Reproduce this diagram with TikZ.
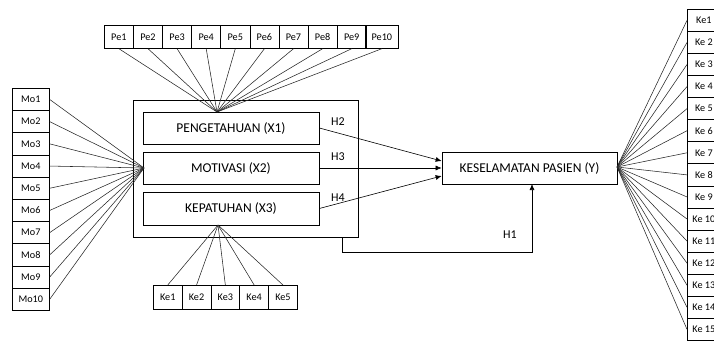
\documentclass[tikz,border=0pt]{standalone}
\usepackage{fontspec}
\setmainfont{Carlito}
\usetikzlibrary{arrows.meta,calc}
\begin{document}
\begin{tikzpicture}[x=1pt,y=-1pt,
  box/.style={draw, line width=0.7pt, inner sep=0pt, font=\fontsize{13.5}{15}\selectfont},
  sbox/.style={draw, line width=0.7pt, inner sep=0pt, font=\fontsize{10.2}{12}\selectfont},
  ln/.style={line width=0.55pt, draw=black!85},
  arr/.style={line width=0.6pt, -{Latex[length=6pt,width=5pt]}},
  lab/.style={font=\fontsize{12}{14}\selectfont, inner sep=0pt}]
\useasboundingbox (0,0) rectangle (714,342);
\clip (0,0) rectangle (714,342);
% outer box
\node[draw, line width=0.7pt, minimum width=225pt, minimum height=137pt, anchor=north west, inner sep=0pt] (outer) at (133,100) {};
\node[box, minimum width=176pt, minimum height=32pt] (peng) at (231,128) {PENGETAHUAN (X1)};
\node[box, minimum width=176pt, minimum height=32pt] (mot) at (231,168) {MOTIVASI (X2)};
\node[box, minimum width=176pt, minimum height=33pt] (kep) at (231,208.5) {KEPATUHAN (X3)};
\node[box, minimum width=175pt, minimum height=32pt] (kes) at (529.5,168) {KESELAMATAN PASIEN (Y)};
% convergence points
\coordinate (cpe) at (217,112);
\coordinate (cmo) at (144,168);
\coordinate (cke) at (218,225);
\coordinate (cy) at (617,167);
% Pe boxes
\foreach \i in {1,...,9} {
  \node[sbox, minimum width=29.1pt, minimum height=23pt, anchor=north west] (pe\i) at ({104+29.1*(\i-1)},25) {Pe\i};
  \draw[ln] (pe\i.south) -- (cpe);
}
\node[sbox, minimum width=33pt, minimum height=23pt, anchor=north west] (pe10) at (365,25) {Pe10};
\draw[ln] (pe10.south) -- (cpe);
% Mo boxes
\foreach \i in {1,...,10} {
  \node[sbox, minimum width=37pt, minimum height=22.2pt, anchor=north west] (mo\i) at (12,{88+22.2*(\i-1)}) {Mo\i};
  \draw[ln] (mo\i.east) -- (cmo);
}
% Ke bottom boxes
\foreach \i in {1,...,5} {
  \node[sbox, minimum width=28.8pt, minimum height=24pt, anchor=north west] (kb\i) at ({153+28.8*(\i-1)},285) {Ke\i};
  \draw[ln] (kb\i.north) -- (cke);
}
% Ke right boxes
\node[sbox, minimum width=33pt, minimum height=22.07pt, anchor=north west] (kr1) at (687,9) {Ke1};
\draw[ln] (kr1.west) -- (cy);
\foreach \i in {2,...,15} {
  \node[sbox, minimum width=33pt, minimum height=22.07pt, anchor=north west] (kr\i) at (687,{9+22.07*(\i-1)}) {Ke \i};
  \draw[ln] (kr\i.west) -- (cy);
}
% arrows
\draw[arr] (peng.east) -- ($(kes.west)+(0,-7)$);
\draw[arr] (mot.east) -- (kes.west);
\draw[arr] (kep.east) -- ($(kes.west)+(0,8)$);
\node[lab] (h2) at (338,122) {H2};
\node[lab] (h3) at (338,157) {H3};
\node[lab] (h4) at (338,198) {H4};
\coordinate (h1s) at (342,237);
\coordinate (h1e) at (532,184);
\draw[arr] (h1s) -- (342,252) -- (532,252) -- (h1e);
\node[lab] (h1) at (510,235) {H1};
\end{tikzpicture}
\end{document}
